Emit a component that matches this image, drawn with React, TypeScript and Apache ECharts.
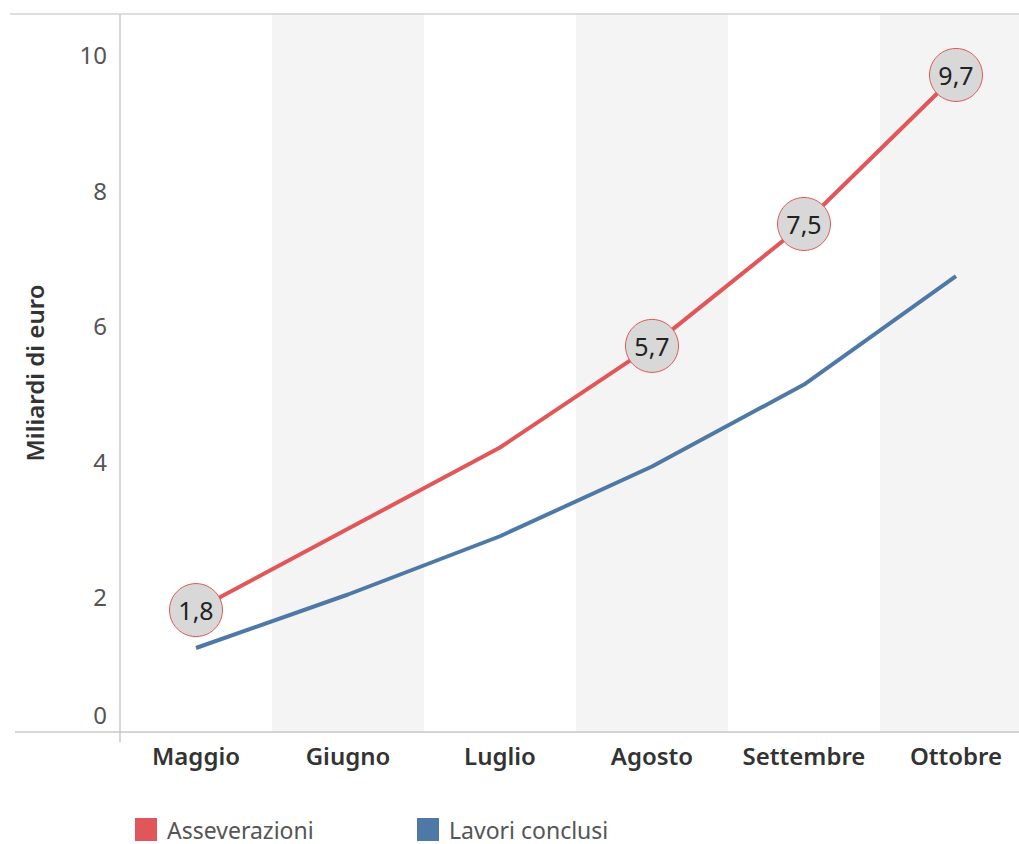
import React, { useEffect, useRef } from "react";
import * as echarts from "echarts";

const categories = ["Maggio", "Giugno", "Luglio", "Agosto", "Settembre", "Ottobre"];
const asseverazioni = [1.8, 3.0, 4.2, 5.7, 7.5, 9.7];
const lavoriConclusi = [1.24, 2.03, 2.89, 3.92, 5.13, 6.73];
const labeledIndices = [0, 3, 4, 5];
const yTickValues = [0, 2, 4, 6, 8, 10];
const seriesNames = ["Asseverazioni", "Lavori conclusi"];
const yAxisTitle = "Miliardi di euro";

const RED = "#e15759";
const BLUE = "#4e79a7";
const FONT = "'Noto Sans', 'Open Sans', sans-serif";
const AXIS_COLOR = "#c9c9c9";

export default function App() {
  const ref = useRef<HTMLDivElement>(null);

  useEffect(() => {
    if (!ref.current) return;
    const chart = echarts.init(ref.current, undefined, { renderer: "svg" });

    const redData = asseverazioni.map((v, i) =>
      labeledIndices.includes(i)
        ? {
            value: v,
            symbol: "circle",
            symbolSize: 53,
            itemStyle: { color: "#d8d8d8", borderColor: RED, borderWidth: 1 },
            label: {
              show: true,
              position: "inside",
              formatter: v.toFixed(1).replace(".", ","),
              fontSize: 25,
              color: "#222",
              fontFamily: FONT,
            },
          }
        : { value: v, symbol: "none" }
    );

    const legendText = { fontSize: 23, lineHeight: 23, color: "#555", fontFamily: FONT, padding: [0, 0, 0, 5] };

    chart.setOption({
      animation: false,
      backgroundColor: "#ffffff",
      grid: {
        left: 120,
        top: 14,
        right: -13,
        bottom: 112,
        containLabel: false,
        outerBoundsMode: "none",
      },
      legend: [
        {
          data: [{ name: seriesNames[0], icon: "rect", itemStyle: { color: RED } }],
          left: 130,
          top: 813,
          itemWidth: 22,
          itemHeight: 23,
          textStyle: legendText,
          selectedMode: false,
        },
        {
          data: [{ name: seriesNames[1], icon: "rect", itemStyle: { color: BLUE } }],
          left: 412,
          top: 813,
          itemWidth: 22,
          itemHeight: 23,
          textStyle: legendText,
          selectedMode: false,
        },
      ],
      xAxis: {
        type: "category",
        data: categories,
        boundaryGap: true,
        axisLine: { show: true, lineStyle: { color: AXIS_COLOR, width: 1.5 } },
        axisTick: { show: false },
        axisLabel: {
          fontSize: 24,
          fontWeight: 600,
          color: "#333",
          fontFamily: FONT,
          margin: 11,
          interval: 0,
        },
        splitArea: { show: true, areaStyle: { color: ["#ffffff", "#f4f4f4"] } },
        splitLine: { show: false },
      },
      yAxis: {
        type: "value",
        min: 0,
        max: 10.6,
        interval: 2,
        name: yAxisTitle,
        nameLocation: "middle",
        nameGap: 74,
        nameTextStyle: { fontSize: 24, fontWeight: 600, color: "#333", fontFamily: FONT },
        axisLine: { show: true, lineStyle: { color: AXIS_COLOR, width: 1.5 } },
        axisTick: { show: false },
        axisLabel: {
          showMaxLabel: false,
          fontSize: 24,
          color: "#555",
          fontFamily: FONT,
          margin: 13,
          formatter: (v: number) => {
            if (!yTickValues.includes(v)) return "";
            return v === 0 ? "{z|" + v + "}" : String(v);
          },
          rich: {
            z: { fontSize: 24, color: "#555", fontFamily: FONT, padding: [0, 0, 36, 0] },
          },
        },
        splitLine: { show: true, lineStyle: { color: "#efefef", width: 1 } },
      },
      graphic: [
        { type: "line", shape: { x1: 10, y1: 14, x2: 1019, y2: 14 }, style: { stroke: "#d2d2d2", lineWidth: 1.5 }, z: 10 },
        { type: "line", shape: { x1: 15, y1: 732, x2: 120, y2: 732 }, style: { stroke: AXIS_COLOR, lineWidth: 1.5 }, z: 10 },
        { type: "line", shape: { x1: 120, y1: 732, x2: 120, y2: 742 }, style: { stroke: AXIS_COLOR, lineWidth: 1.5 }, z: 10 },
      ],
      series: [
        {
          name: seriesNames[1],
          type: "line",
          data: lavoriConclusi,
          showSymbol: false,
          symbol: "none",
          lineStyle: { color: BLUE, width: 4 },
          itemStyle: { color: BLUE },
          z: 2,
        },
        {
          name: seriesNames[0],
          type: "line",
          data: redData,
          showSymbol: true,
          lineStyle: { color: RED, width: 4 },
          itemStyle: { color: RED },
          z: 3,
        },
      ],
    });

    return () => chart.dispose();
  }, []);

  return (
    <div
      ref={ref}
      style={{ position: "absolute", left: 0, top: 0, width: 1019, height: 844 }}
    />
  );
}
